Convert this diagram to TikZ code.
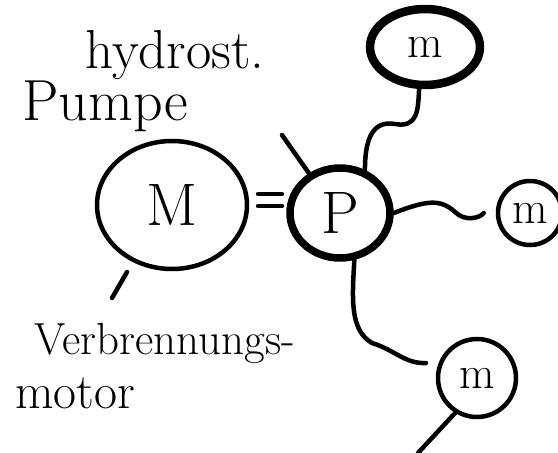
\documentclass[tikz,border=0pt]{standalone}
\usetikzlibrary{shapes.geometric}
\begin{document}
\begin{tikzpicture}[x=1pt,y=-1pt,line cap=round,line join=round,
  ink/.style={line width=4.5pt},
  lbl/.style={font=\fontsize{#1}{#1}\selectfont,inner sep=0pt},
  big/.style={font=\fontsize{60}{64}\selectfont,inner sep=0pt},
  small/.style={font=\fontsize{46}{50}\selectfont,inner sep=0pt}]
\useasboundingbox[fill=white] (0,0) rectangle (558,453);

% nodes
\node[big,ellipse,draw,ink,minimum width=150pt,minimum height=128pt] (M) at (172,205) {M};
\node[big,ellipse,draw,line width=7.5pt,minimum width=100pt,minimum height=90pt] (P) at (340,213) {P};
\node[small,ellipse,draw,line width=8.5pt,minimum width=110pt,minimum height=76pt] (m1) at (425,47) {m};
\node[small,circle,draw,ink,minimum size=64pt] (m2) at (530,213) {m};
\node[small,circle,draw,ink,minimum size=78pt] (m3) at (477,378) {m};

% labels
\node[lbl=55] (hy) at (175,55) {hydrost.};
\node[lbl=58] (pu) at (105,106) {Pumpe};
\node[lbl=45] (vb) at (165,343) {Verbrennungs-};
\node[lbl=50] (mo) at (75,393) {motor};

% free ends
\coordinate (pa) at (282,135);
\coordinate (ma1) at (127,272);
\coordinate (ma2) at (112,298);
\coordinate (mb) at (418,453);
\coordinate (eqa1) at (258,194);
\coordinate (eqb1) at (282,194);
\coordinate (eqa2) at (258,206);
\coordinate (eqb2) at (282,206);
\coordinate (pm3) at (426,363);

% "=" between M and P
\draw[ink] (eqa1) -- (eqb1);
\draw[ink] (eqa2) -- (eqb2);

% connectors
\draw[ink] (pa) -- (P.128);
\draw[ink] (ma1) -- (ma2);
\draw[ink] (P.60) .. controls (365,140) and (372,120) .. (395,124)
  .. controls (418,128) and (418,110) .. (m1.262);
\draw[ink] (P.east) .. controls (425,201) and (440,198) .. (455,212)
  .. controls (465,222) and (480,218) .. ([xshift=-12pt]m2.west);
\draw[ink] (P.287) .. controls (352,300) and (350,330) .. (372,343)
  .. controls (395,350) and (405,364) .. (pm3);
\draw[ink] (m3.238) -- (mb);
\end{tikzpicture}
\end{document}
